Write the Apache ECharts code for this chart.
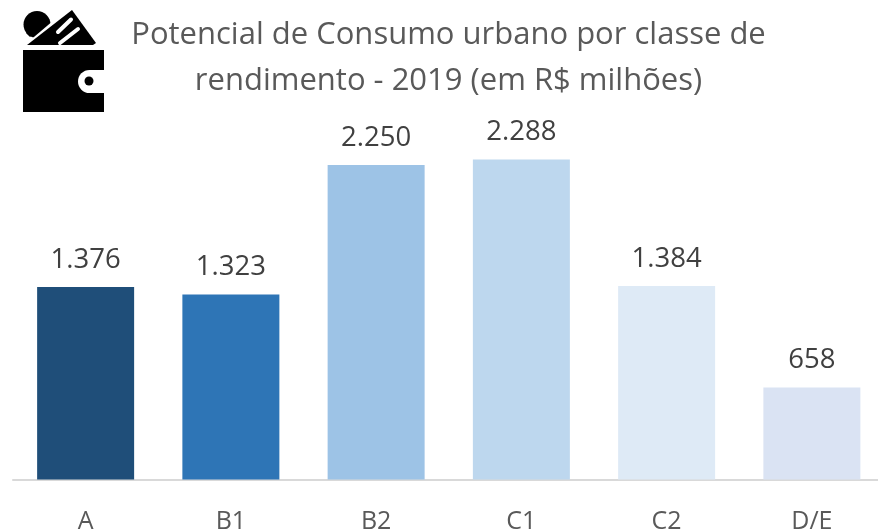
<!DOCTYPE html>
<html>
<head>
<meta charset="utf-8">
<style>html,body{margin:0;padding:0;background:#fff}#chart{width:878px;height:532px}</style>
<script src="https://cdn.jsdelivr.net/npm/echarts@6/dist/echarts.min.js"></script>
</head>
<body>
<div id="chart"></div>
<script>
var categories = ['A', 'B1', 'B2', 'C1', 'C2', 'D/E'];
var values = [1376, 1323, 2250, 2288, 1384, 658];
var barColors = ['#1F4E79', '#2E75B6', '#9DC3E6', '#BDD7EE', '#DEEAF6', '#DAE3F3'];
var titleLines = ['Potencial de Consumo urbano por classe de', 'rendimento - 2019 (em R$ milhões)'];

var myChart = echarts.init(document.getElementById('chart'));
var fontName = '"Open Sans", "Noto Sans", sans-serif';

//数值 -> 1.376
function pointFormat(v) {
  return String(v).replace(/\B(?=(\d{3})+$)/g, '.');
}

var barData = [];
for (var i = 0; i < values.length; i++) {
  barData.push({ value: values[i], itemStyle: { color: barColors[i] } });
}

myChart.setOption({
  animation: false,
  title: {
    text: titleLines.join('\n'),
    left: 443.5, top: 7, textAlign: 'center',
    textStyle: { fontFamily: fontName, fontSize: 31, fontWeight: 'normal', color: '#595959', lineHeight: 46 }
  },
  grid: { left: 13, right: -6.5, top: 116, bottom: 52.5, outerBoundsMode: 'none' },
  xAxis: {
    type: 'category',
    data: categories,
    axisLine: { lineStyle: { color: '#D9D9D9', width: 2 } },
    axisTick: { show: false },
    axisLabel: { fontFamily: fontName, fontSize: 25, color: '#595959', margin: 30 }
  },
  yAxis: { type: 'value', min: 0, max: 2600, show: false, splitLine: { show: false } },
  series: [{
    type: 'bar',
    data: barData,
    barWidth: 97,
    label: {
      show: true, position: 'top', distance: 13,
      fontFamily: fontName, fontSize: 27.5, color: '#404040',
      formatter: function (p) { return pointFormat(p.value); }
    }
  }],
  graphic: [
    // carteira
    { type: 'rect', shape: { x: 23, y: 50, width: 81, height: 62 }, style: { fill: '#000' } },
    { type: 'rect', shape: { x: 78, y: 70, width: 30, height: 23, r: [11.5, 0, 0, 11.5] }, style: { fill: '#fff' } },
    { type: 'circle', shape: { cx: 89, cy: 81, r: 4.5 }, style: { fill: '#000' } },
    // moeda
    { type: 'circle', shape: { cx: 37, cy: 24.5, r: 13.5 }, style: { fill: '#000' } },
    { type: 'polygon', shape: { points: [[26, 33], [30, 37], [50, 20], [40, 14]] }, style: { fill: '#000' } },
    { type: 'polygon', shape: { points: [[28, 42], [60, 15], [60, 45], [28, 45]] }, style: { fill: '#fff' } },
    // cartão
    { type: 'polygon', shape: { points: [[27, 45], [72, 10], [96, 43], [93, 45]] }, style: { fill: '#000' } },
    { type: 'line', shape: { x1: 58, y1: 32, x2: 71, y2: 19.5 }, style: { stroke: '#fff', lineWidth: 4, lineCap: 'round' } },
    { type: 'line', shape: { x1: 60, y1: 43, x2: 78, y2: 29 }, style: { stroke: '#fff', lineWidth: 4, lineCap: 'round' } }
  ]
});
</script>
</body>
</html>
